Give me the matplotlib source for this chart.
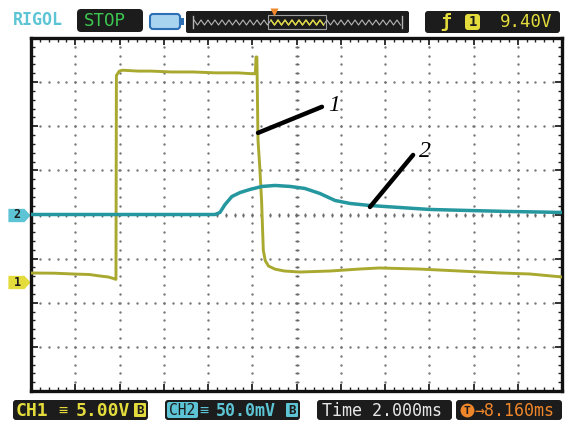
import matplotlib
matplotlib.use("Agg")
import matplotlib.pyplot as plt
import numpy as np
from matplotlib.patches import FancyBboxPatch, Rectangle
from matplotlib.transforms import blended_transform_factory

# scope settings
time_scale = 2.0      # ms/div
trig_offset = 8.16    # ms, trigger -> screen centre
ch1_scale = 5.0       # V/div
ch2_scale = 50.0      # mV/div
ch1_pos = -1.53       # div, ground marker of CH1
ch2_pos = 0.0         # div, ground marker of CH2

# CH1: time (ms, 0 = trigger) and volts
ch1_t = [-3.84, -2.8, -1.84, -1.2, -0.72, -0.35, -0.18, -0.05, 0.0, 0.02, 0.15, 0.3,
         1.0, 1.6, 2.5, 3.5, 4.5, 5.5, 6.15, 6.3, 6.33, 6.37, 6.42, 6.5, 6.58, 6.66,
         6.75, 6.9, 7.2, 7.6, 8.3, 9.7, 11.0, 11.9, 13.7, 15.5, 17.4, 18.7, 20.16]
ch1_v = [1.02, 1.0, 0.9, 0.85, 0.68, 0.57, 0.45, 0.34, 0.3, 23.4, 23.9, 24.0,
         23.9, 23.9, 23.8, 23.8, 23.7, 23.7, 23.6, 23.6, 25.5, 25.5, 16.1, 13.0, 9.3, 3.6,
         2.4, 1.8, 1.45, 1.25, 1.13, 1.25, 1.47, 1.59, 1.47, 1.25, 1.02, 0.91, 0.57]

# CH2: time (ms) and millivolts
ch2_t = [-3.84, 0.0, 4.48, 4.70, 4.93, 5.24, 5.61, 6.06, 6.60, 7.19, 7.87, 8.54,
         9.22, 9.90, 10.58, 11.48, 12.84, 14.19, 16.0, 17.81, 19.17, 20.16]
ch2_mv = [0.0, 0.0, 0.0, 2.3, 11.3, 20.4, 24.9, 28.4, 31.8, 32.9, 31.8, 29.5,
          23.8, 15.9, 12.5, 10.2, 7.9, 5.7, 4.5, 3.4, 2.8, 2.3]

# callouts: (start t, start div, end t, end div, label t, label div, text)
callouts = [(6.42, 1.85, 9.31, 2.44, 9.85, 2.46, "1"),
            (11.48, 0.17, 13.43, 1.35, 13.95, 1.42, "2")]

YEL = "#a9a930"
TEAL = "#25979f"
LYEL = "#e4dc3c"
LTEAL = "#5cc4d4"
ORANGE = "#f0862a"
DARK = "#1c1c1c"
MONO = "DejaVu Sans Mono"

fig = plt.figure(figsize=(5.66, 4.21), dpi=100)
deco = fig.add_axes([0, 0, 1, 1])
deco.set_xlim(0, 566)
deco.set_ylim(421, 0)
deco.axis("off")


def box(x0, y0, x1, y1, fc, ec="none", r=3, lw=0):
    deco.add_patch(FancyBboxPatch((x0, y0), x1 - x0, y1 - y0,
                                  boxstyle=f"round,pad=0,rounding_size={r}",
                                  fc=fc, ec=ec, lw=lw))


def txt(x, y, s, c, size=12, **kw):
    deco.text(x, y, s, color=c, fontsize=size, family=MONO, va="center", ha="left", **kw)


# header
txt(13, 20, "RIGOL", LTEAL, size=12, fontweight="bold")
box(77, 9, 143, 32, DARK, r=4)
txt(84, 21, "STOP", "#3cc850", size=12.5)
box(150, 14, 180, 29, "#a8d4f0", ec="#2d6fb5", lw=1.5, r=3)
deco.add_patch(Rectangle((180, 18), 4, 7, fc="#2d6fb5", ec="none"))
box(186, 11, 409, 33, DARK, r=2)
zx = np.arange(194, 401, 3.5)
zy = np.where(np.arange(len(zx)) % 2 == 0, 20, 25)
inside = (zx >= 268) & (zx <= 326)
deco.plot(zx, zy, color="#b5b5b5", lw=0.8)
deco.plot(zx[inside], zy[inside], color=LYEL, lw=1.0)
deco.plot([193, 193], [16, 28], color="#b5b5b5", lw=1)
deco.plot([402, 402], [16, 28], color="#b5b5b5", lw=1)
deco.add_patch(Rectangle((268, 15), 58, 14, fc="none", ec="#a0a0a0", lw=0.8))
deco.plot([274], [12], marker="v", ms=6, color=ORANGE, mec="none")
box(425, 11, 560, 33, DARK, r=3)
txt(440, 22, "ƒ", LYEL, size=13, fontweight="bold")
box(465, 14, 480, 30, LYEL, r=3)
deco.text(472.5, 22.5, "1", color=DARK, fontsize=10, family=MONO, ha="center", va="center",
          fontweight="bold")
txt(500, 22, "9.40V", LYEL, size=12.5)

# footer
box(13, 400, 148, 420, DARK, r=3)
txt(16, 410.5, "CH1", LYEL, size=13, fontweight="bold")
txt(58, 410, "≡", LYEL, size=11)
txt(76, 410.5, "5.00V", LYEL, size=13, fontweight="bold")
box(134, 403, 146, 417, LYEL, r=1)
deco.text(140, 410.5, "B", color=DARK, fontsize=9, family=MONO, ha="center", va="center",
          fontweight="bold")

box(165, 400, 300, 420, DARK, r=3)
box(167, 402, 198, 418, LTEAL, r=2)
deco.text(182.5, 410.5, "CH2", color=DARK, fontsize=10.5, family=MONO, ha="center", va="center")
txt(199, 410, "≡", LTEAL, size=11)
txt(216, 410.5, "50.0mV", LTEAL, size=12, fontweight="bold")
box(286, 403, 298, 417, LTEAL, r=1)
deco.text(292, 410.5, "B", color=DARK, fontsize=9, family=MONO, ha="center", va="center",
          fontweight="bold")

box(317, 400, 452, 420, DARK, r=3)
txt(322, 410.5, "Time 2.000ms", "#e8e8e8", size=12)

box(456, 400, 562, 420, DARK, r=3)
deco.plot([467], [410], marker="o", ms=10, color=ORANGE, mec="none")
deco.text(467, 410.5, "T", color=DARK, fontsize=8, family=MONO, ha="center", va="center",
          fontweight="bold")
txt(474, 410.5, "→8.160ms", ORANGE, size=12)

# screen
ax = fig.add_axes([31 / 566, 30 / 421, 531 / 566, 353 / 421])
left = trig_offset - 6 * time_scale
right = trig_offset + 6 * time_scale
ax.set_xlim(left, right)
ax.set_ylim(-4, 4)
for s in ax.spines.values():
    s.set_linewidth(2.4)
    s.set_color("#111111")

minor_x = np.arange(left, right + 1e-6, time_scale / 5)
major_x = np.arange(left, right + 1e-6, time_scale)
ax.set_xticks(major_x)
ax.set_xticks(minor_x, minor=True)
ax.set_yticks(np.arange(-4, 4.01, 1))
ax.set_yticks(np.arange(-4, 4.01, 0.2), minor=True)
ax.tick_params(which="both", direction="in", top=True, right=True,
               labelbottom=False, labelleft=False, color="#222222")
ax.tick_params(which="major", length=5, width=1.3)
ax.tick_params(which="minor", length=3, width=1.0)

# dotted graticule
gx, gy = [], []
for xv in major_x[1:-1]:
    for yv in np.arange(-3.8, 3.81, 0.2):
        gx.append(xv)
        gy.append(yv)
for yv in range(-3, 4):
    for xv in minor_x[1:-1]:
        gx.append(xv)
        gy.append(yv)
ax.scatter(gx, gy, s=3.0, color="#777777", linewidths=0, zorder=1)
ax.plot(minor_x[1:-1], np.zeros(len(minor_x) - 2), ls="none", marker="|", ms=3.5,
        mew=1.0, color="#6a6a6a", zorder=1)
ax.plot(np.full(39, trig_offset), np.arange(-3.8, 3.81, 0.2), ls="none", marker="_",
        ms=3.5, mew=1.0, color="#6a6a6a", zorder=1)

# traces
ax.plot(ch1_t, np.array(ch1_v) / ch1_scale + ch1_pos, color=YEL, lw=2.1, zorder=3)
ax.plot(ch2_t, np.array(ch2_mv) / ch2_scale + ch2_pos, color=TEAL, lw=2.5, zorder=3)

# callouts
for x0, y0, x1, y1, lx, ly, s in callouts:
    ax.plot([x0, x1], [y0, y1], color="black", lw=3.2, solid_capstyle="round", zorder=4)
    ax.text(lx, ly, s, fontsize=17, style="italic", family="Liberation Serif",
            ha="center", va="center", zorder=4)

# channel ground markers (left of screen)
tr_left = blended_transform_factory(deco.transData, ax.transData)
pent_r = [(-1, -0.6), (0.45, -0.6), (1, 0), (0.45, 0.6), (-1, 0.6)]
for pos, col, s in [(ch2_pos, LTEAL, "2"), (ch1_pos, LYEL, "1")]:
    deco.plot([19], [pos], marker=pent_r, ms=16, color=col, mec="none",
              transform=tr_left, clip_on=False)
    deco.text(17, pos, s, transform=tr_left, color=DARK, fontsize=8.5, family=MONO,
              fontweight="bold", ha="center", va="center")

# trigger position marker
tr_top = blended_transform_factory(ax.transData, deco.transData)
pent_d = [(-0.75, 1), (0.75, 1), (0.75, -0.4), (0, -1), (-0.75, -0.4)]
deco.plot([0.0], [52], marker=pent_d, ms=13, color=ORANGE, mec="none",
          transform=tr_top, clip_on=False)
deco.text(0.0, 50, "T", transform=tr_top, color=DARK, fontsize=8, family=MONO,
          fontweight="bold", ha="center", va="center")
deco.plot([trig_offset], [42], marker="v", ms=6, color=ORANGE, mec="none",
          transform=tr_top, clip_on=False)

fig.savefig("out.png", dpi=100)
